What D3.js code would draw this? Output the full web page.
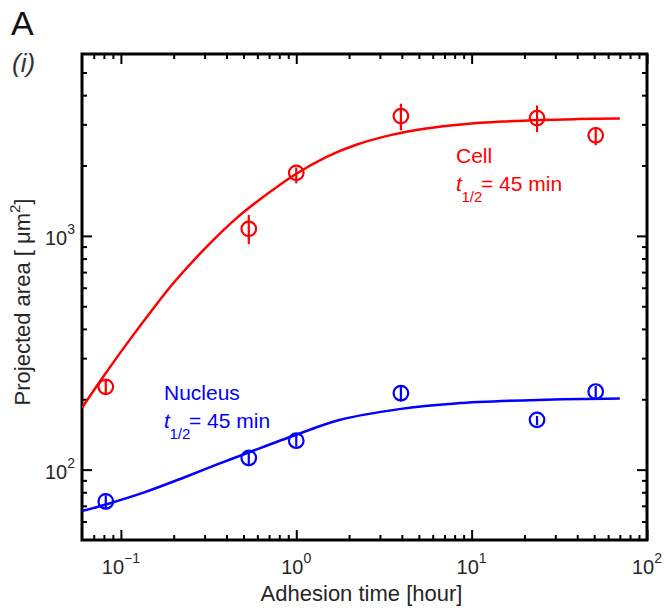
<!DOCTYPE html>
<html><head><meta charset="utf-8">
<script src="https://cdn.jsdelivr.net/npm/d3@7"></script>
<style>body{margin:0;background:#fff}svg{display:block}</style>
</head><body><svg id="c" width="667" height="616"></svg>
<script>
// ---- data ----
const xMajorTicks = [0.1, 1, 10, 100];
const xTickExponents = ["\u22121", "0", "1", "2"];
const xMinorTicks = [0.07,0.08,0.09,0.2,0.3,0.4,0.5,0.6,0.7,0.8,0.9,2,3,4,5,6,7,8,9,20,30,40,50,60,70,80,90];
const yMajorTicks = [100, 1000];
const yTickExponents = ["2", "3"];
const yMinorTicks = [60,70,80,90,200,300,400,500,600,700,800,900,2000,3000,4000,5000];

const times = [0.082, 0.536, 1.0, 3.95, 23.6, 51];
const cellArea = [226, 1071, 1861, 3255, 3192, 2693];
const cellLow  = [210, 922, 1677, 2829, 2783, 2442];
const cellHigh = [242, 1229, 1962, 3677, 3615, 2922];
const nucleusArea = [73.1, 112.2, 133, 212.3, 163.3, 215.8];
const nucleusLow  = [68.5, 103.4, 125.3, 195.6, 155, 203];
const nucleusHigh = [77.7, 120.5, 140.6, 226.6, 169.8, 228];

const cellFitT = [0.06, 0.08, 0.11, 0.15, 0.2, 0.3, 0.45, 0.65, 1.0, 1.5, 2.2, 3.5, 5.5, 9, 15, 25, 40, 70];
const cellFitA = [184, 252, 352, 480, 630, 880, 1180, 1470, 1845, 2185, 2455, 2705, 2880, 3005, 3085, 3135, 3160, 3178];
const nucleusFitT = [0.06, 0.085, 0.137, 0.231, 0.357, 0.552, 1.0, 1.76, 3.86, 8.1, 24, 70];
const nucleusFitA = [66.5, 71.5, 80.1, 92.8, 105.5, 119.5, 141, 163, 181.5, 192, 198.8, 201.4];

const xDomain = [0.06, 100];
const yDomain = [50, 6000];

// ---- layout ----
const L = 82, R = 647, T = 54, B = 540;
const svg = d3.select("#c");
const font = "'Liberation Sans', Arial, Helvetica, sans-serif";
const txt = "#262626";

const x = d3.scaleLog().domain(xDomain).range([L, R]);
const y = d3.scaleLog().domain(yDomain).range([B, T]);

svg.append("defs").append("clipPath").attr("id","clip")
  .append("rect").attr("x",L).attr("y",T).attr("width",R-L).attr("height",B-T);

// ticks (inward, all four sides)
function tickAxis(axisFn, scale, vals, len, tr) {
  const g = svg.append("g").attr("transform", tr)
    .call(axisFn(scale).tickValues(vals).tickSizeInner(-len).tickSizeOuter(0).tickFormat(""));
  g.select(".domain").remove();
  g.selectAll(".tick line").attr("stroke","#000").attr("stroke-width",2);
}
tickAxis(d3.axisBottom, x, xMajorTicks, 10, `translate(0,${B})`);
tickAxis(d3.axisBottom, x, xMinorTicks, 5, `translate(0,${B})`);
tickAxis(d3.axisTop, x, xMajorTicks, 10, `translate(0,${T})`);
tickAxis(d3.axisTop, x, xMinorTicks, 5, `translate(0,${T})`);
tickAxis(d3.axisLeft, y, yMajorTicks, 10, `translate(${L},0)`);
tickAxis(d3.axisLeft, y, yMinorTicks, 5, `translate(${L},0)`);
tickAxis(d3.axisRight, y, yMajorTicks, 10, `translate(${R},0)`);
tickAxis(d3.axisRight, y, yMinorTicks, 5, `translate(${R},0)`);

// frame
svg.append("rect").attr("x",L).attr("y",T).attr("width",R-L).attr("height",B-T)
  .attr("fill","none").attr("stroke","#000").attr("stroke-width",3);

// tick labels
function powLabel(px, py, anchor, exp) {
  const t = svg.append("text").attr("x",px).attr("y",py).attr("text-anchor",anchor)
    .attr("font-family",font).attr("font-size",20).attr("fill",txt);
  t.append("tspan").text("10");
  t.append("tspan").attr("dy",-11).attr("font-size",14).text(exp);
}
xMajorTicks.forEach((v,i) => powLabel(x(v), 574, "middle", xTickExponents[i]));
yMajorTicks.forEach((v,i) => powLabel(75, y(v)+9, "end", yTickExponents[i]));

// axis titles
svg.append("text").attr("x",361.5).attr("y",601).attr("text-anchor","middle")
  .attr("font-family",font).attr("font-size",22).attr("fill",txt).text("Adhesion time [hour]");
const yt = svg.append("text").attr("transform","translate(30,302) rotate(-90)")
  .attr("text-anchor","middle").attr("font-family",font).attr("font-size",22).attr("fill",txt);
yt.append("tspan").text("Projected area [ \u03bcm");
yt.append("tspan").attr("dy",-10).attr("font-size",15).text("2");
yt.append("tspan").attr("dy",10).text("]");

// panel labels
svg.append("text").attr("x",11).attr("y",35).attr("font-family",font).attr("font-size",34).attr("fill","#111").text("A");
svg.append("text").attr("x",12).attr("y",72).attr("font-family",font).attr("font-size",26)
  .attr("font-style","italic").attr("fill","#333").text("(i)");

// fit curves
const line = d3.line().x(d => x(d[0])).y(d => y(d[1])).curve(d3.curveCatmullRom.alpha(0.5));
const plot = svg.append("g").attr("clip-path","url(#clip)");
plot.append("path").datum(cellFitT.map((t,i)=>[t,cellFitA[i]])).attr("d",line)
  .attr("fill","none").attr("stroke","#ff0000").attr("stroke-width",2.5);
plot.append("path").datum(nucleusFitT.map((t,i)=>[t,nucleusFitA[i]])).attr("d",line)
  .attr("fill","none").attr("stroke","#0000ff").attr("stroke-width",2.5);

// data points with error bars
function points(vals, lo, hi, color) {
  const g = plot.append("g");
  times.forEach((t,i) => {
    g.append("line").attr("x1",x(t)).attr("x2",x(t)).attr("y1",y(lo[i])).attr("y2",y(hi[i]))
      .attr("stroke",color).attr("stroke-width",2.2);
    g.append("circle").attr("cx",x(t)).attr("cy",y(vals[i])).attr("r",7.3)
      .attr("fill","none").attr("stroke",color).attr("stroke-width",2.2);
  });
}
points(cellArea, cellLow, cellHigh, "#ff0000");
points(nucleusArea, nucleusLow, nucleusHigh, "#0000ff");

// annotations
function annot(px, py, title, color) {
  const g = svg.append("g").attr("font-family",font).attr("fill",color);
  g.append("text").attr("x",px).attr("y",py).attr("font-size",21).text(title);
  g.append("text").attr("x",px).attr("y",py+28).attr("font-size",21).attr("font-style","italic").text("t");
  g.append("text").attr("x",px+5.5).attr("y",py+39).attr("font-size",15).text("1/2");
  g.append("text").attr("x",px+25).attr("y",py+28).attr("font-size",21).text("= 45 min");
}
annot(456, 163, "Cell", "#ff0000");
annot(164, 400, "Nucleus", "#0000ff");
</script></body></html>
